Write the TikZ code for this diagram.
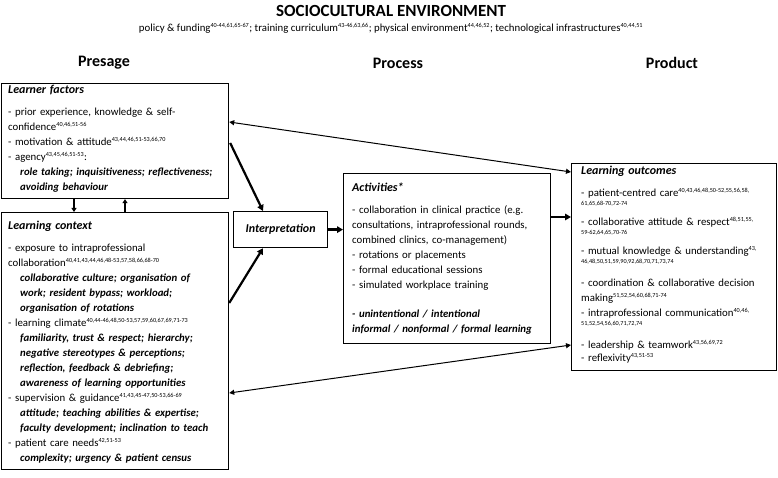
\documentclass[tikz,border=0pt]{standalone}
\usepackage{fontspec}
\setmainfont{Carlito}
\usetikzlibrary{arrows.meta,calc}
\newcommand{\rf}[1]{\textsuperscript{\fontsize{6.2}{6.2}\selectfont #1}}
\newcommand{\rfl}[1]{{\fontsize{6.2}{6.2}\selectfont #1}}
\newcommand{\hdg}[1]{{\fontsize{12}{14}\selectfont\bfseries\itshape #1}}
\newcommand{\sub}[1]{\hspace*{12pt}{\bfseries\itshape #1}}
\begin{document}
\begin{tikzpicture}[x=1pt,y=-1pt,
  box/.style={draw, line width=1.2pt, anchor=north west, inner sep=0pt},
  txt/.style={anchor=north west, align=left, inner sep=0pt, text width=#1,
    font=\fontsize{10.8}{15}\selectfont},
  colhead/.style={font=\fontsize{16}{18}\selectfont\bfseries},
  thickarrow/.style={line width=2.2pt, -{Triangle[length=6pt,width=6.5pt]}},
  thinarrow/.style={line width=1pt, {Triangle[length=5pt,width=5pt]}-{Triangle[length=5pt,width=5pt]}},
  smallarrow/.style={line width=1.1pt, -{Triangle[length=4pt,width=5pt]}}
]
\path[use as bounding box] (0,0) rectangle (778,478);

% title
\node (title) at (391,11) {\fontsize{17}{20}\selectfont\bfseries SOCIOCULTURAL ENVIRONMENT};
\node (subtitle) at (391,28) {\fontsize{10.8}{12}\selectfont policy \& funding\rf{40-44,61,65-67}; training curriculum\rf{43-46,63,66}; physical environment\rf{44,46,52}; technological infrastructures\rf{40,44,51}};

% column headers
\node[colhead] (presage) at (104,63) {Presage};
\node[colhead] (process) at (398,63) {Process};
\node[colhead] (product) at (672,63) {Product};

% boxes
\node[box, minimum width=227pt, minimum height=115pt] (lf) at (1,83) {};
\node[box, minimum width=227pt, minimum height=257pt] (lc) at (1,212) {};
\node[box, minimum width=94pt, minimum height=36pt] (interp) at (233,211) {};
\node[box, minimum width=207pt, minimum height=170pt] (act) at (343,173) {};
\node[box, minimum width=205pt, minimum height=207pt] (lo) at (571,163) {};

\node at (interp.center) (interptext) {\hdg{Interpretation}};

% learner factors
\node[txt=225pt] (lftext) at (8,85) {\hdg{Learner factors}\\[7pt]
- prior experience, knowledge \& self-\\
confidence\rf{40,46,51-56}\\
- motivation \& attitude\rf{43,44,46,51-53,66,70}\\
- agency\rf{43,45,46,51-53}:\\
\sub{role taking; inquisitiveness; reflectiveness;}\\
\sub{avoiding behaviour}};

% learning context
\node[txt=225pt] (lctext) at (8,221) {\hdg{Learning context}\\[7pt]
- exposure to intraprofessional\\
collaboration\rf{40,41,43,44,46,48-53,57,58,66,68-70}\\
\sub{collaborative culture; organisation of}\\
\sub{work; resident bypass; workload;}\\
\sub{organisation of rotations}\\
- learning climate\rf{40,44-46,48,50-53,57,59,60,67,69,71-73}\\
\sub{familiarity, trust \& respect; hierarchy;}\\
\sub{negative stereotypes \& perceptions;}\\
\sub{reflection, feedback \& debriefing;}\\
\sub{awareness of learning opportunities}\\
- supervision \& guidance\rf{41,43,45-47,50-53,66-69}\\
\sub{attitude; teaching abilities \& expertise;}\\
\sub{faculty development; inclination to teach}\\
- patient care needs\rf{42,51-53}\\
\sub{complexity; urgency \& patient census}};

% activities
\node[txt=200pt] (acttext) at (352,183) {\hdg{Activities*}\\[7pt]
- collaboration in clinical practice (e.g.\\
consultations, intraprofessional rounds,\\
combined clinics, co-management)\\
- rotations or placements\\
- formal educational sessions\\
- simulated workplace training\\[14pt]
{\bfseries\itshape - unintentional / intentional}\\
{\bfseries\itshape informal / nonformal / formal learning}};

% learning outcomes
\node[txt=200pt] (lotext) at (581,166) {\hdg{Learning outcomes}\\[6.5pt]
- patient-centred care\rf{40,43,46,48,50-52,55,56,58,}\\[-5.5pt]
\rfl{61,65,68-70,72-74}\\[4.5pt]
- collaborative attitude \& respect\rf{48,51,55,}\\[-5.5pt]
\rfl{59-62,64,65,70-76}\\[4.5pt]
- mutual knowledge \& understanding\rf{43,}\\[-5.5pt]
\rfl{46,48,50,51,59,90,92,68,70,71,73,74}\\[7.5pt]
- coordination \& collaborative decision\\
making\rf{51,52,54,60,68,71-74}\\
- intraprofessional communication\rf{40,46,}\\[-5.5pt]
\rfl{51,52,54,56,60,71,72,74}\\[7.5pt]
- leadership \& teamwork\rf{43,56,69,72}\\[-2pt]
- reflexivity\rf{43,51-53}};

% connectors
\draw[smallarrow] ($(lf.south west)+(73,0)$) -- ($(lc.north west)+(73,0)$);
\draw[smallarrow] ($(lc.north west)+(124,0)$) -- ($(lf.south west)+(124,0)$);
\draw[thickarrow] ($(lf.north east)+(1,60)$) -- ($(interp.north west)+(30,0)$);
\draw[thickarrow] ($(lc.north east)+(0,91)$) -- ($(interp.south west)+(30,0)$);
\draw[thickarrow] (interp.east) -- (interp.east -| act.west);
\draw[thickarrow] ($(act.north east)+(0,44)$) -- ($(lo.north west)+(0,54)$);
\draw[thinarrow] ($(lf.north east)+(0,39)$) -- ($(lo.north west)+(0,9)$);
\draw[thinarrow] ($(lc.north east)+(0,181)$) -- ($(lo.north west)+(0,182)$);
\end{tikzpicture}
\end{document}
